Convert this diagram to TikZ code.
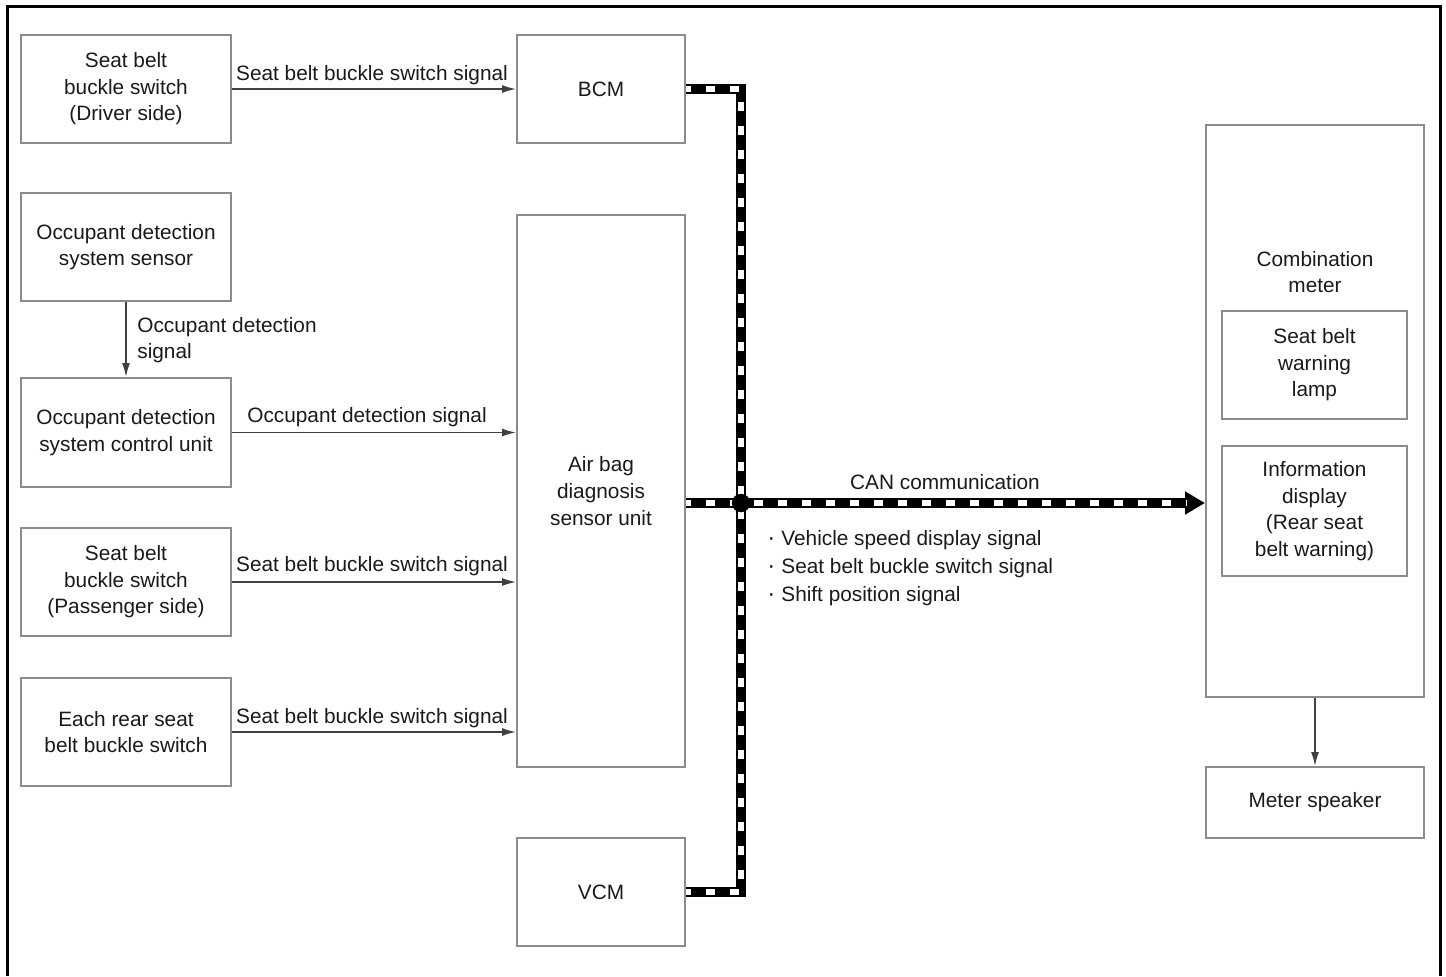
\documentclass[tikz,border=0pt]{standalone}
\usepackage{fontspec}
\setmainfont{Liberation Sans}
\usetikzlibrary{arrows.meta}
\definecolor{boxgray}{HTML}{8C8C8C}
\definecolor{txt}{HTML}{1A1A1A}
\definecolor{linegray}{HTML}{404040}
\begin{document}
\begin{tikzpicture}[x=0.5pt,y=-0.5pt,
  box/.style={draw=boxgray,line width=1pt,align=center,inner sep=0pt,text=txt,font=\fontsize{10.4}{13.3}\selectfont},
  lbl/.style={text=txt,inner sep=0pt,font=\fontsize{10.4}{13.3}\selectfont},
  sig/.style={draw=linegray,line width=0.75pt,-{Latex[length=7pt,width=4pt]}},
  busblack/.style={line width=4.6pt,black},
  buswhite/.style={line width=3pt,white,dash pattern=on 4.5pt off 7.5pt,dash phase=2pt}]
\useasboundingbox (0,0) rectangle (1446,976);
\fill[white] (0,0) rectangle (1446,976);
\draw[line width=1.5pt,black] (7,976) -- (7,6) -- (1440,6) -- (1440,976);

% left column
\node[box,minimum width=105pt,minimum height=54pt] (sbd) at (126,89) {Seat belt\\buckle switch\\(Driver side)};
\node[box,minimum width=105pt,minimum height=54pt] (ods) at (126,247) {Occupant detection\\system sensor};
\node[box,minimum width=105pt,minimum height=54.5pt] (odc) at (126,432.5) {Occupant detection\\system control unit};
\node[box,minimum width=105pt,minimum height=54pt] (sbp) at (126,582) {Seat belt\\buckle switch\\(Passenger side)};
\node[box,minimum width=105pt,minimum height=54pt] (rsb) at (126,732) {Each rear seat\\belt buckle switch};

% middle column
\node[box,minimum width=84pt,minimum height=54pt] (bcm) at (601,89) {BCM};
\node[box,minimum width=84pt,minimum height=276pt] (abg) at (601,491) {Air bag\\diagnosis\\sensor unit};
\node[box,minimum width=84pt,minimum height=54pt] (vcm) at (601,892) {VCM};

% right column
\node[box,minimum width=109pt,minimum height=286pt] (cm) at (1315,411) {};
\node[lbl,align=center] (cmlabel) at (1315,272) {Combination\\meter};
\node[box,minimum width=92.5pt,minimum height=54pt] (swl) at (1314.5,365) {Seat belt\\warning\\lamp};
\node[box,minimum width=92.5pt,minimum height=65pt] (inf) at (1314.5,511) {Information\\display\\(Rear seat\\belt warning)};
\node[box,minimum width=109pt,minimum height=35.5pt] (spk) at (1315,802.5) {Meter speaker};

% signal arrows
\draw[sig] (sbd.east) -- (bcm.west);
\node[lbl] (l1) at (372,75) {Seat belt buckle switch signal};
\draw[sig] (ods.south) -- (odc.north);
\node[lbl,anchor=west,align=left] (l2) at (137,340) {Occupant detection\\signal};
\draw[sig] (odc.east) -- (odc.east -| abg.west);
\node[lbl] (l3) at (367,417) {Occupant detection signal};
\draw[sig] (sbp.east) -- (sbp.east -| abg.west);
\node[lbl] (l4) at (372,566) {Seat belt buckle switch signal};
\draw[sig] (rsb.east) -- (rsb.east -| abg.west);
\node[lbl] (l5) at (372,718) {Seat belt buckle switch signal};
\draw[sig] (cm.south) -- (spk.north);

% CAN bus
\coordinate (j) at (741,503);
\coordinate (tip) at (1187,503);
\draw[busblack] (bcm.east) -- (bcm.east -| j) -- (vcm.east -| j) -- (vcm.east);
\draw[buswhite] (bcm.east) -- (bcm.east -| j) -- (vcm.east -| j) -- (vcm.east);
\draw[busblack,-{Triangle[length=10pt,width=11pt]}] (abg.east |- j) -- (cm.west |- j);
\draw[buswhite] (abg.east |- j) -- (tip);
\fill[black] (j) circle (4.6pt);

\node[lbl] (can) at (945,482) {CAN communication};
\node[lbl,anchor=west,align=left,font=\fontsize{10.4}{14}\selectfont] (list) at (767,568)
  {{\large·}\hspace{3pt}Vehicle speed display signal\\{\large·}\hspace{3pt}Seat belt buckle switch signal\\{\large·}\hspace{3pt}Shift position signal};
\end{tikzpicture}
\end{document}
